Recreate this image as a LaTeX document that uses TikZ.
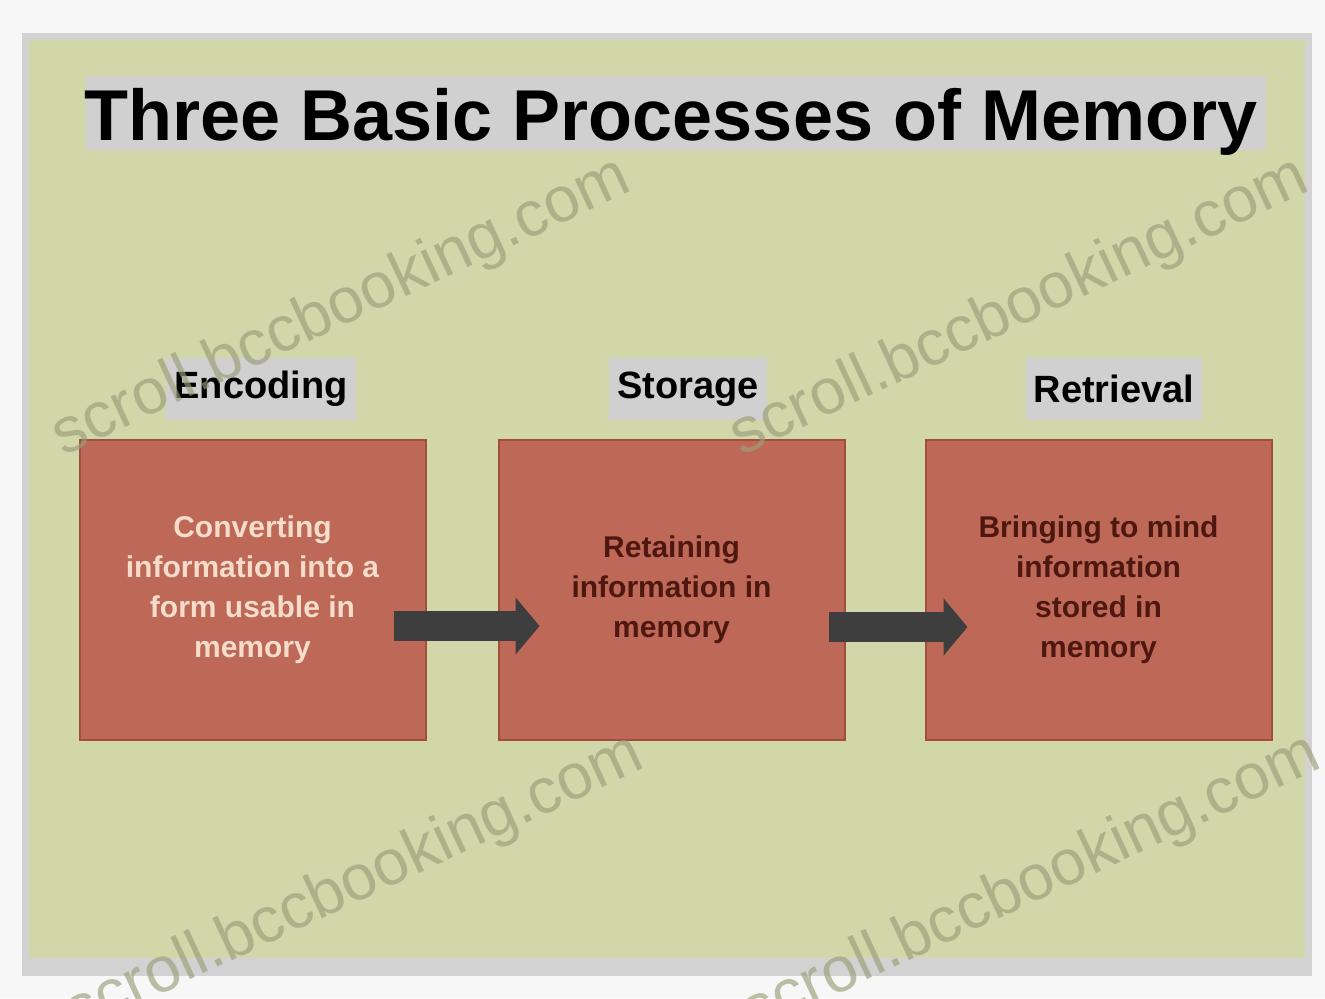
\documentclass[tikz,border=0pt]{standalone}
\usepackage{fontspec}
\setmainfont{Liberation Sans}
\usetikzlibrary{arrows.meta}
\definecolor{pagebg}{HTML}{F7F7F7}
\definecolor{shadowgrey}{HTML}{D2D2D2}
\definecolor{slidebg}{HTML}{D2D7A9}
\definecolor{boxfill}{HTML}{BE6957}
\definecolor{boxline}{HTML}{A24D3D}
\definecolor{labelgrey}{HTML}{D0D0D0}
\definecolor{arrowgrey}{HTML}{3E3E3E}
\definecolor{lighttext}{HTML}{F6DCCB}
\definecolor{darktext}{HTML}{4E1810}
\definecolor{wmark}{HTML}{9A9E78}
\tikzset{
  procbox/.style={draw=boxline, line width=1pt, fill=boxfill, minimum width=173pt, minimum height=150pt, inner sep=0pt},
  boxtext/.style={font=\bfseries\fontsize{15}{20}\selectfont, align=center},
  steplabel/.style={fill=labelgrey, font=\bfseries\fontsize{19}{22}\selectfont, inner xsep=4pt, minimum height=31pt, text=black},
  flowarrow/.style={draw=arrowgrey, line width=15pt, -{Triangle[length=12pt,width=28pt]}},
  watermark/.style={font=\fontsize{32}{34}\selectfont, text=wmark, opacity=0.65, rotate=25}
}
\begin{document}
\begin{tikzpicture}[x=0.5pt,y=-0.5pt]
\useasboundingbox (0,0) rectangle (1325,998);
\fill[pagebg] (0,0) rectangle (1325,998);
\fill[shadowgrey] (22,33) rectangle (1312,976);
\fill[slidebg] (29,40) rectangle (1305,958);
% title
\fill[labelgrey] (86,76) rectangle (1266,150);
\node[anchor=base, font=\bfseries\fontsize{36}{40}\selectfont] (title) at (671,140) {Three Basic Processes of Memory};
% step labels
\node[steplabel] (lenc) at (261,389) {Encoding};
\node[steplabel] (lsto) at (688,389) {Storage};
\node[steplabel] (lret) at (1114,389) {Retrieval};
% boxes
\node[procbox] (enc) at (252.5,590) {};
\node[procbox] (sto) at (671.5,590) {};
\node[procbox] (ret) at (1098.5,590) {};
% arrows
\draw[flowarrow] ([shift={(-16.5pt,-18pt)}]enc.east) -- ([shift={(21pt,-18pt)}]sto.west);
\draw[flowarrow] ([shift={(-8.5pt,-18.5pt)}]sto.east) -- ([shift={(21.5pt,-18.5pt)}]ret.west);
% box texts
\node[boxtext, text=lighttext] (tenc) at (enc.center) {Converting\\information into a\\form usable in\\memory};
\node[boxtext, text=darktext] (tsto) at (sto.center) {Retaining\\information in\\memory};
\node[boxtext, text=darktext] (tret) at (ret.center) {Bringing to mind\\information\\stored in\\memory};
% watermarks
\node[watermark] (w1) at (342,308) {scroll.bccbooking.com};
\node[watermark] (w2) at (1020,308) {scroll.bccbooking.com};
\node[watermark] (w3) at (355,885) {scroll.bccbooking.com};
\node[watermark] (w4) at (1032,885) {scroll.bccbooking.com};
\end{tikzpicture}
\end{document}
